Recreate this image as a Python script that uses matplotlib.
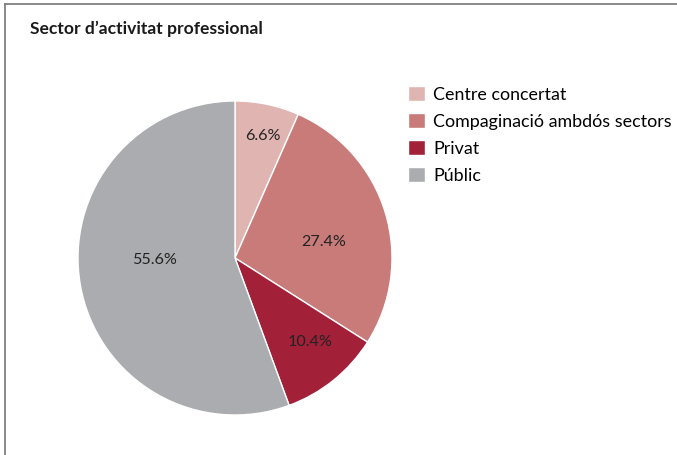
import numpy as np
import matplotlib.pyplot as plt
from matplotlib.lines import Line2D

labels = ["Centre concertat", "Compaginació ambdós sectors", "Privat", "Públic"]
shares = [6.6, 27.4, 10.4, 55.6]
colors = ["#e0b5b1", "#c87b79", "#a32039", "#abacaf"]
# where each percentage label sits, in units of the pie radius
label_xy = [(0.175, 0.78), (0.564, 0.10), (0.478, -0.535), (-0.51, -0.013)]

plt.rcParams['font.family'] = ['Lato', 'DejaVu Sans']

W, H = 677, 455
fig = plt.figure(figsize=(W / 100, H / 100), dpi=100)

# frame lines (top and left)
fig.add_artist(Line2D([5 / W, 1], [1 - 4 / H, 1 - 4 / H], color="#7f7f7f", lw=1.3))
fig.add_artist(Line2D([5 / W, 5 / W], [1 - 4 / H, 0], color="#7f7f7f", lw=1.3))

fig.text(30 / W, 1 - 29 / H, "Sector d’activitat professional", fontsize=12.6,
         fontweight="bold", va="center", ha="left", color="#1a1a1a")

cx, cy, r = 235, 258, 157
ax = fig.add_axes([(cx - r) / W, (H - cy - r) / H, 2 * r / W, 2 * r / H])
wedges, _ = ax.pie(shares, colors=colors, startangle=90, counterclock=False,
                   wedgeprops=dict(edgecolor="white", linewidth=1))
for (x, y), v in zip(label_xy, shares):
    ax.text(x, y, f"{v}%", ha="center", va="center", fontsize=11.6, color="#222222")
ax.set_xlim(-1, 1)
ax.set_ylim(-1, 1)
ax.set_aspect("equal")
ax.axis("off")

fig.legend(wedges, labels, loc="upper left", bbox_to_anchor=(408 / W, 1 - 86 / H),
           frameon=False, fontsize=12.9, handlelength=0.95, handleheight=0.95,
           handletextpad=0.45, labelspacing=0.56, borderaxespad=0, borderpad=0)

fig.savefig("out.png", dpi=100)
